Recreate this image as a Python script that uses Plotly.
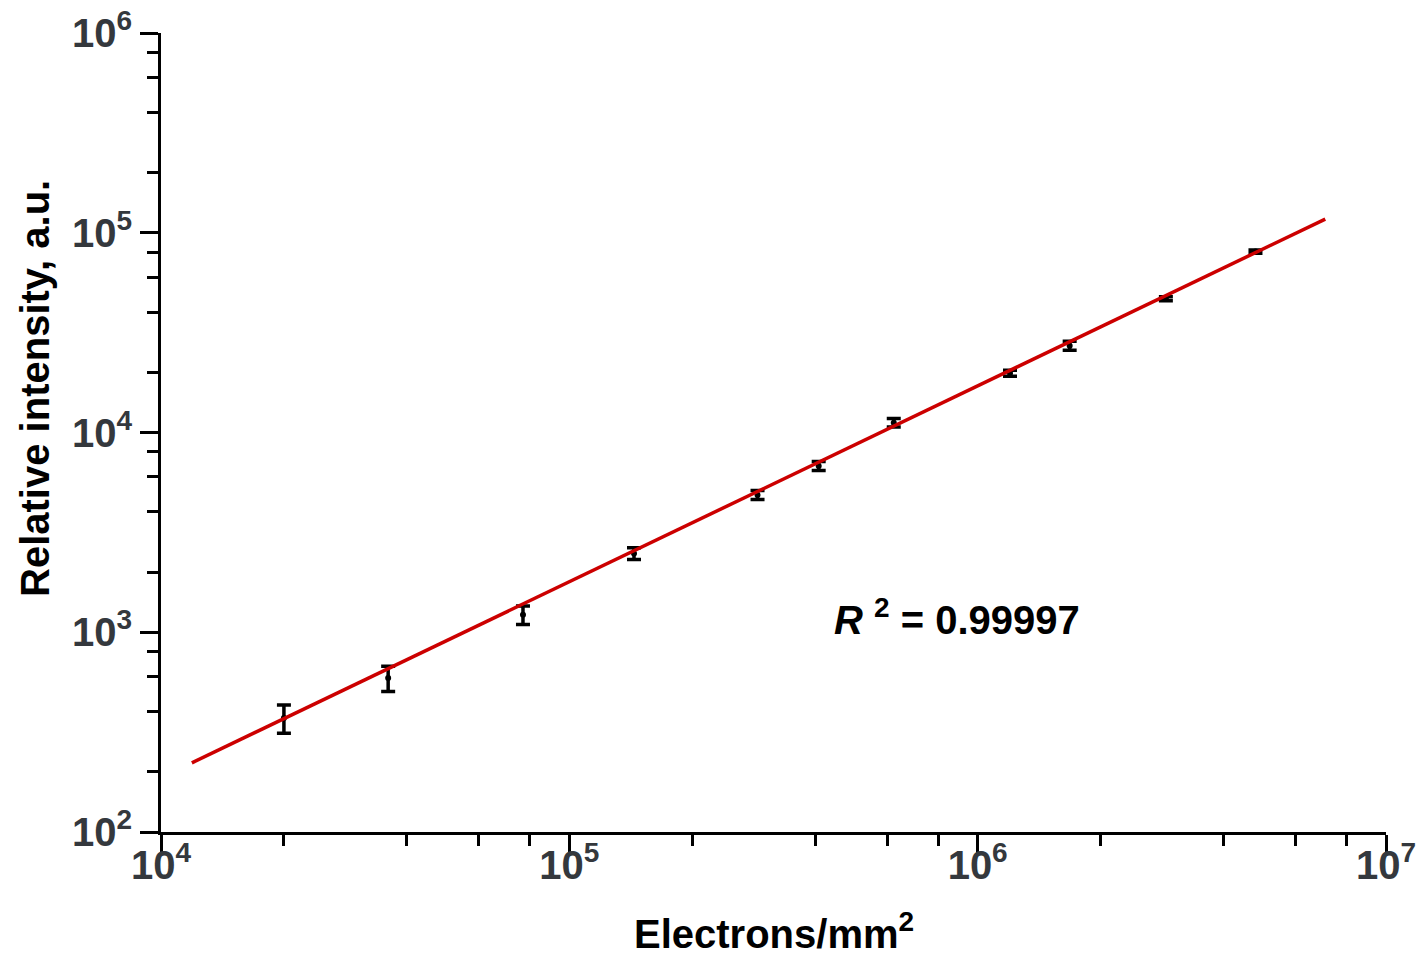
import plotly.graph_objects as go

# Data
electrons = [2.0e4, 3.6e4, 7.7e4, 1.44e5, 2.89e5, 4.08e5, 6.23e5, 1.2e6, 1.68e6, 2.89e6, 4.79e6]
intensity = [372, 590, 1225, 2480, 4870, 6800, 11200, 19800, 27200, 46700, 80500]
intensity_err = [60, 85, 130, 170, 250, 350, 550, 700, 1400, 1100, 1500]

fit_x = [1.19e4, 7.1e6]
fit_y = [222, 117000]

x_major = [1e4, 1e5, 1e6, 1e7]
x_major_text = ["10<sup>4</sup>", "10<sup>5</sup>", "10<sup>6</sup>", "10<sup>7</sup>"]
x_minor = [m * d for d in [1e4, 1e5, 1e6] for m in (2, 4, 6, 8)]

y_major = [1e2, 1e3, 1e4, 1e5, 1e6]
y_major_text = ["10<sup>2</sup>", "10<sup>3</sup>", "10<sup>4</sup>", "10<sup>5</sup>", "10<sup>6</sup>"]
y_minor = [m * d for d in [1e2, 1e3, 1e4, 1e5] for m in (2, 4, 6, 8)]

FONT = "Liberation Sans, Arial, sans-serif"
TICK_COLOR = "#34383d"

fig = go.Figure()
fig.add_trace(go.Scatter(
    x=electrons, y=intensity, mode="markers",
    marker=dict(color="black", size=6),
    error_y=dict(type="data", array=intensity_err, color="black", thickness=3.5, width=7),
    showlegend=False,
))
fig.add_trace(go.Scatter(
    x=fit_x, y=fit_y, mode="lines",
    line=dict(color="#cc0000", width=3.5),
    showlegend=False,
))

axis_common = dict(
    type="log", showgrid=False, zeroline=False, automargin=False,
    showline=True, linecolor="black", linewidth=3,
    ticks="outside", ticklen=18, tickwidth=3, tickcolor="black",
    tickfont=dict(family=FONT, size=40, color=TICK_COLOR, weight="bold"),
    tickmode="array",
)

fig.update_xaxes(
    **axis_common,
    range=[4, 7],
    tickvals=x_major, ticktext=x_major_text,
    ticklabelstandoff=-22,
    minor=dict(tickmode="array", tickvals=x_minor, ticks="outside", ticklen=11,
               tickwidth=3, tickcolor="black"),
)
fig.update_yaxes(
    **axis_common,
    range=[2, 6],
    tickvals=y_major, ticktext=y_major_text,
    minor=dict(tickmode="array", tickvals=y_minor, ticks="outside", ticklen=11,
               tickwidth=3, tickcolor="black"),
)

fig.update_layout(
    width=1422, height=956,
    margin=dict(l=161, r=36, t=33, b=124),
    paper_bgcolor="white", plot_bgcolor="white",
    annotations=[
        dict(text="Relative intensity, a.u.", xref="paper", yref="paper",
             x=-0.1029, y=0.5557, xanchor="center", yanchor="middle",
             textangle=-90, showarrow=False,
             font=dict(family=FONT, size=40, color="black", weight="bold")),
        dict(text="Electrons/mm<sup>2</sup>", xref="paper", yref="paper",
             x=0.5, y=-0.124, xanchor="center", yanchor="middle",
             showarrow=False,
             font=dict(family=FONT, size=40, color="black", weight="bold")),
        dict(text="<i>R</i> <sup>2</sup> = 0.99997", xref="paper", yref="paper",
             x=0.6498, y=0.269, xanchor="center", yanchor="middle",
             showarrow=False,
             font=dict(family=FONT, size=40, color="black", weight="bold")),
    ],
)

fig.write_html("out.html")
